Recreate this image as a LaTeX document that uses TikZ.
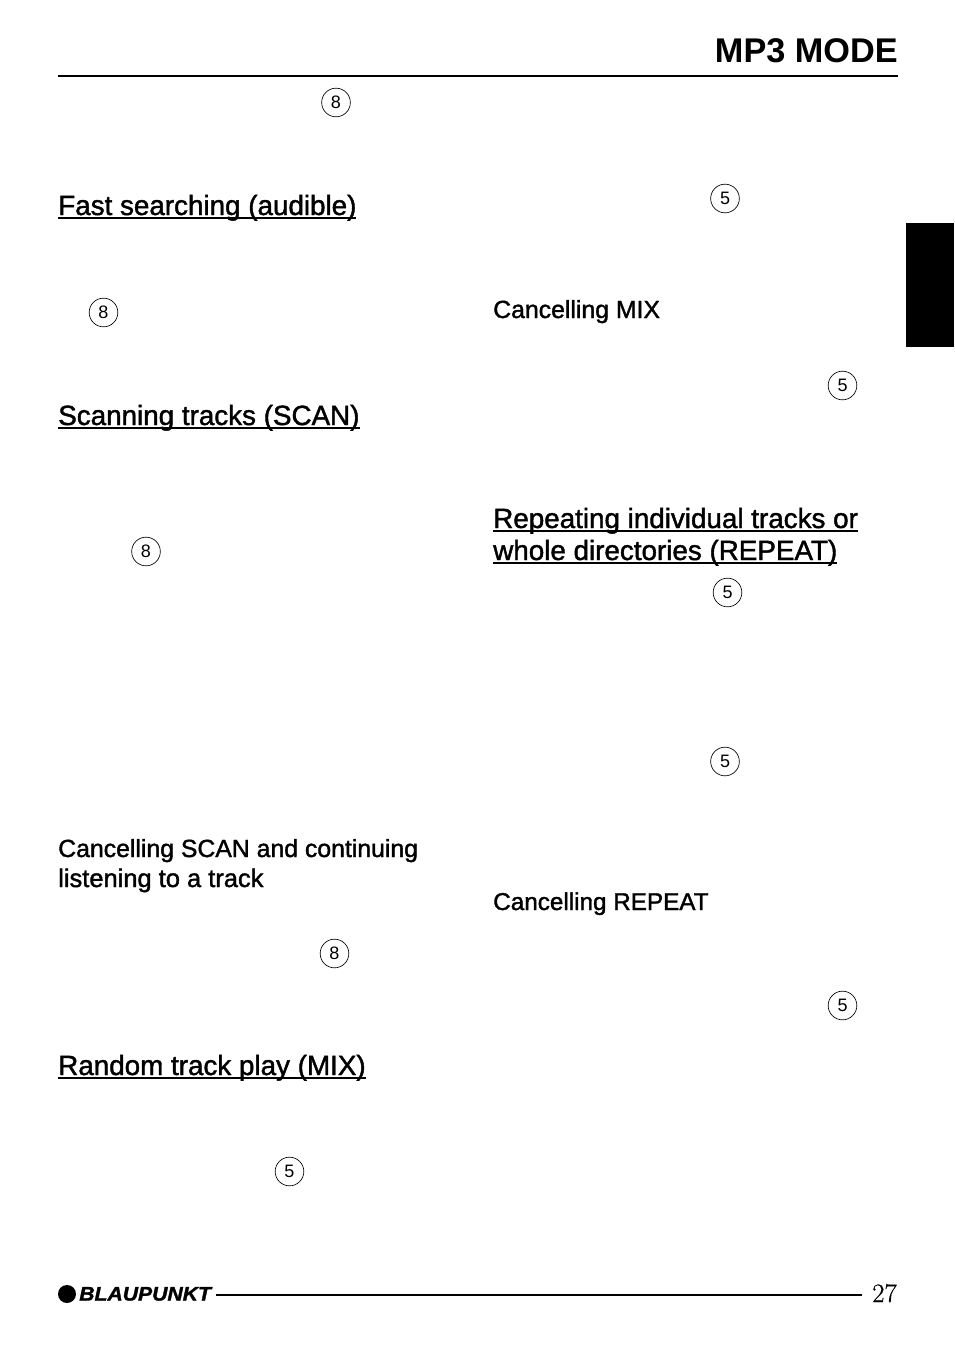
\documentclass[tikz,border=0pt]{standalone}
\usepackage{fontspec}
\setmainfont{Liberation Sans}
\newfontfamily\mediumfont[FakeBold=1.5]{Liberation Sans}
\newfontfamily\brandfont[FakeStretch=1.08,BoldItalicFeatures={FakeBold=1.5}]{Liberation Sans}
\newfontfamily\pagefont[FakeBold=0.6]{Latin Modern Roman}
\usetikzlibrary{positioning}
\tikzset{
  headtext/.style={anchor=base west, inner sep=0pt, font=\mediumfont\fontsize{20.85}{24}\selectfont},
  subtext/.style={anchor=base west, inner sep=0pt, font=\mediumfont\fontsize{#1}{22}\selectfont},
  subtext/.default=18.6,
  keycircle/.style={circle, draw, line width=0.5pt, minimum size=21.5pt, inner sep=0pt, font=\fontsize{13.5}{15}\selectfont},
}
\newlength{\headlen}
\newcommand{\headline}[1]{\settowidth{\headlen}{#1}\rlap{\rule[-3pt]{\headlen}{1.3pt}}#1}
\begin{document}
\begin{tikzpicture}[x=0.75pt, y=-0.75pt]
  \useasboundingbox (0,0) rectangle (954,1349);

  % page head
  \node[anchor=base east, inner sep=0pt, font=\fontsize{25.7}{30}\selectfont\bfseries] (title) at (898,62) {MP3 MODE};
  \coordinate (headl) at (58,75.5);
  \coordinate (headr) at (898,75.5);
  \draw[line width=1.5pt] (headl) -- (headr);
  \fill (906,223) rectangle (954,347);

  % left column
  \node[headtext] (fast) at (58,215) {\headline{Fast searching (audible)}};
  \node[headtext] (scan) at (58,425) {\headline{Scanning tracks (SCAN)}};
  \node[subtext] (cscan) at (58,857) {Cancelling SCAN and continuing};
  \node[subtext=19.1] (cscanb) at (58,887) {listening to a track};
  \node[headtext] (mix) at (58,1075) {\headline{Random track play (MIX)}};

  % right column
  \node[subtext] (cmix) at (493,318) {Cancelling MIX};
  \node[headtext] (rep) at (493,528) {\headline{Repeating individual tracks or}};
  \node[headtext] (repb) at (493,560) {\headline{whole directories (REPEAT)}};
  \node[subtext=18.2] (crep) at (493,910) {Cancelling REPEAT};

  % keys
  \node[keycircle] (k1) at (336,102.5) {\raisebox{-0.7pt}{8}};
  \node[keycircle] (k2) at (103.5,312.5) {\raisebox{-0.7pt}{8}};
  \node[keycircle] (k3) at (146,551.5) {\raisebox{-0.7pt}{8}};
  \node[keycircle] (k4) at (334.5,953.5) {\raisebox{-0.7pt}{8}};
  \node[keycircle] (k5) at (289.5,1171.5) {\raisebox{-0.7pt}{5}};
  \node[keycircle] (k6) at (725,198.5) {\raisebox{-0.7pt}{5}};
  \node[keycircle] (k7) at (842.5,385.5) {\raisebox{-0.7pt}{5}};
  \node[keycircle] (k8) at (727.5,592.5) {\raisebox{-0.7pt}{5}};
  \node[keycircle] (k9) at (725,761.5) {\raisebox{-0.7pt}{5}};
  \node[keycircle] (k10) at (842.5,1005.5) {\raisebox{-0.7pt}{5}};

  % page foot
  \fill (67,1294) circle[radius=9];
  \node[anchor=base west, inner sep=0pt, font=\brandfont\bfseries\itshape\fontsize{14.7}{18}\selectfont] (brand) at (79,1300.5) {BLAUPUNKT};
  \node[anchor=base east, inner sep=0pt, font=\pagefont\fontsize{20}{22}\selectfont] (page) at (897,1302) {27};
  \coordinate (footl) at (216,1294.5);
  \coordinate (footr) at (862,1294.5);
  \draw[line width=1.5pt] (footl) -- (footr);
\end{tikzpicture}
\end{document}
